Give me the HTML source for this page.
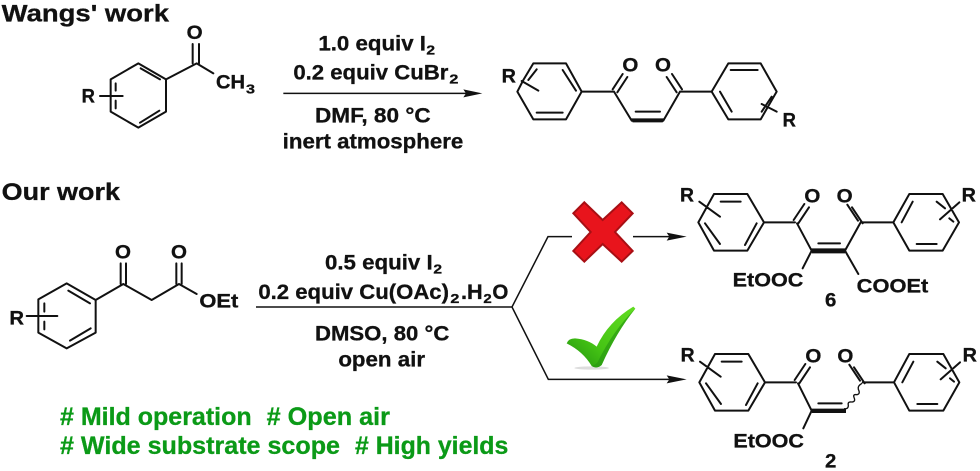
<!DOCTYPE html>
<html><head><meta charset="utf-8"><style>
html,body{margin:0;padding:0;background:#fff;width:980px;height:471px;overflow:hidden}
svg{display:block;filter:blur(.3px)}
text{font-family:"Liberation Sans",sans-serif;font-weight:bold;fill:#111;stroke:#111;stroke-width:.9px}
.s{stroke:#111;stroke-width:6;fill:none;stroke-linecap:round;stroke-linejoin:round}
.t{stroke:#111;stroke-width:4.5;fill:none}
.a{font-size:58px}.b{font-size:64px}.c{font-size:38px}.h{font-size:72px}.g{font-size:76px;fill:#0b9a17;stroke:#0b9a17}
</style></head><body>
<svg width="980" height="471" viewBox="0 0 980 471" xmlns="http://www.w3.org/2000/svg">
<defs><linearGradient id="gr" x1="1" y1="0" x2="0" y2="1"><stop offset="0" stop-color="#62dd22"/><stop offset=".6" stop-color="#45c414"/><stop offset="1" stop-color="#1f8f10"/></linearGradient></defs>
<g transform="scale(.33333)">
<text class="h" x="5" y="64" textLength="502" lengthAdjust="spacingAndGlyphs">Wangs' work</text>
<path class="s" d="M415 190L498 238V335L415 383L332 335V238ZM422 205L480 238M420 368L478 332M347 250V272M347 302V325M300 288H368M498 238L590 190L640 220M578 190V132M597 190V132"/>
<text class="a" x="245" y="308" textLength="40" lengthAdjust="spacingAndGlyphs">R</text>
<text class="a" x="560" y="117" textLength="48" lengthAdjust="spacingAndGlyphs">O</text>
<text class="a" x="648" y="265" textLength="87" lengthAdjust="spacingAndGlyphs">CH</text>
<text class="c" x="738" y="280" textLength="27" lengthAdjust="spacingAndGlyphs">3</text>
<text class="b" x="955" y="152" textLength="323" lengthAdjust="spacingAndGlyphs">1.0 equiv I</text>
<text class="c" x="1279" y="163" textLength="26" lengthAdjust="spacingAndGlyphs">2</text>
<text class="b" x="880" y="238" textLength="465" lengthAdjust="spacingAndGlyphs">0.2 equiv CuBr</text>
<text class="c" x="1348" y="250" textLength="27" lengthAdjust="spacingAndGlyphs">2</text>
<path class="t" d="M850 280H1400"/><path d="M1390 268L1447 280L1390 292L1398 280Z" fill="#111"/>
<text class="b" x="945" y="368" textLength="347" lengthAdjust="spacingAndGlyphs">DMF, 80 °C</text>
<text class="b" x="848" y="445" textLength="542" lengthAdjust="spacingAndGlyphs">inert atmosphere</text>
</g>
<g transform="translate(490,0) scale(.33333)">
<path class="s" d="M130 190H228L275 275L228 358H130L82 275L100 240L130 190ZM218 210L258 272M140 338H218M115 240L140 208M95 243L145 272M275 275H372M372 275L425 362M520 362L570 275M437 335H510M368 268L398 222M382 277L412 231M570 275H665M576 268L546 222M560 277L530 231M665 275L715 190H812L860 275L812 358H715ZM722 210H803M690 275L725 335M845 290L815 335M815 312L860 335"/>
<path d="M420 355H525L518 367H428Z" fill="#111"/>
<text class="a" x="35" y="248" textLength="43" lengthAdjust="spacingAndGlyphs">R</text>
<text class="a" x="397" y="215" textLength="48" lengthAdjust="spacingAndGlyphs">O</text>
<text class="a" x="495" y="215" textLength="48" lengthAdjust="spacingAndGlyphs">O</text>
<text class="a" x="878" y="380" textLength="40" lengthAdjust="spacingAndGlyphs">R</text>
</g>
<g transform="translate(0,170) scale(.33333)">
<text class="h" x="5" y="90" textLength="355" lengthAdjust="spacingAndGlyphs">Our work</text>
<path class="s" d="M200 340L287 390V488L200 535L115 488V388ZM205 362L270 400M210 512L272 475M133 400V425M133 455V478M80 438H172M287 390L370 342L455 390L537 342L590 372M362 342V280M378 342V280M529 342V280M545 342V280"/>
<text class="a" x="28" y="463" textLength="44" lengthAdjust="spacingAndGlyphs">R</text>
<text class="a" x="345" y="266" textLength="48" lengthAdjust="spacingAndGlyphs">O</text>
<text class="a" x="513" y="266" textLength="48" lengthAdjust="spacingAndGlyphs">O</text>
<text class="a" x="598" y="412" textLength="117" lengthAdjust="spacingAndGlyphs">OEt</text>
<text class="b" x="975" y="298" textLength="323" lengthAdjust="spacingAndGlyphs">0.5 equiv I</text>
<text class="c" x="1300" y="311" textLength="26" lengthAdjust="spacingAndGlyphs">2</text>
<text class="b" x="775" y="387" textLength="572" lengthAdjust="spacingAndGlyphs">0.2 equiv Cu(OAc)</text>
<text class="c" x="1351" y="399" textLength="27" lengthAdjust="spacingAndGlyphs">2</text>
<text class="b" x="1383" y="387" textLength="65" lengthAdjust="spacingAndGlyphs">.H</text>
<text class="c" x="1450" y="399" textLength="25" lengthAdjust="spacingAndGlyphs">2</text>
<text class="b" x="1477" y="387" textLength="48" lengthAdjust="spacingAndGlyphs">O</text>
<text class="b" x="945" y="512" textLength="403" lengthAdjust="spacingAndGlyphs">DMSO, 80 °C</text>
<text class="b" x="1015" y="590" textLength="260" lengthAdjust="spacingAndGlyphs">open air</text>
<text class="g" x="180" y="765" textLength="575" lengthAdjust="spacingAndGlyphs"># Mild operation</text>
<text class="g" x="800" y="765" textLength="370" lengthAdjust="spacingAndGlyphs"># Open air</text>
<text class="g" x="180" y="852" textLength="840" lengthAdjust="spacingAndGlyphs"># Wide substrate scope</text>
<text class="g" x="1065" y="852" textLength="460" lengthAdjust="spacingAndGlyphs"># High yields</text>
</g>
<g transform="scale(.33333)">
<path class="t" d="M768 921H1536L1644 710H1716M1536 921L1645 1138H2040M1899 710H2040"/>
<path d="M2000 698L2060 710L2000 722L2008 710Z" fill="#111"/>
<path d="M2000 1126L2060 1138L2000 1150L2008 1138Z" fill="#111"/>
</g>
<g transform="translate(490,170) scale(.33333)">
<path d="M283 97L338 150L395 97L428 130L375 186L428 243L395 275L338 222L283 275L250 243L302 186L250 130Z" fill="#e8141c" stroke="#a80f14" stroke-width="6" stroke-linejoin="miter"/>
<path class="s" d="M672 72H772L822 157L772 242H672L625 157ZM692 95H752M800 160L765 225M690 222L645 160M628 95L690 140M822 157H915M921 160L965 242M911 150L943 102M925 160L957 112M985 220H1050M1065 242L1112 157M1118 160L1086 112M1104 152L1072 104M1112 157H1210M1210 157L1258 72H1358L1407 157L1358 242H1258ZM1235 157L1268 95M1280 222H1340M1340 95L1365 115M1378 145L1390 155M1408 97L1350 148M965 242L938 295M1065 242L1105 312"/>
<path d="M960 235H1070L1065 250H966Z" fill="#111"/>
<text class="a" x="570" y="95" textLength="42" lengthAdjust="spacingAndGlyphs">R</text>
<text class="a" x="943" y="98" textLength="48" lengthAdjust="spacingAndGlyphs">O</text>
<text class="a" x="1040" y="98" textLength="48" lengthAdjust="spacingAndGlyphs">O</text>
<text class="a" x="1415" y="95" textLength="43" lengthAdjust="spacingAndGlyphs">R</text>
<text class="a" x="728" y="350" textLength="212" lengthAdjust="spacingAndGlyphs">EtOOC</text>
<text class="a" x="1100" y="367" textLength="215" lengthAdjust="spacingAndGlyphs">COOEt</text>
<text class="a" x="1005" y="410" textLength="34" lengthAdjust="spacingAndGlyphs">6</text>
</g>
<g transform="translate(490,320) scale(.33333)">
<path class="s" d="M675 102H775L825 187L775 272H675L628 187ZM695 125H755M803 190L768 255M693 252L648 190M630 125L692 170M825 187H918M924 190L965 272M914 180L946 132M928 190L960 142M985 250H1055M1118 187H1212M1124 190L1092 142M1110 182L1078 134M1212 187L1258 102H1360L1408 187L1360 272H1258ZM1237 187L1270 125M1282 252H1342M1342 125L1367 145M1380 175L1392 185M1410 127L1352 178M965 272L940 325"/>
<path d="M960 266H1068V279H966Z" fill="#111"/>
<path d="M1062 266Q1075 268 1075 256Q1072 244 1085 246Q1098 246 1092 232Q1088 222 1101 224Q1112 222 1105 208Q1102 198 1116 190" fill="none" stroke="#111" stroke-width="4"/>
<text class="a" x="572" y="125" textLength="42" lengthAdjust="spacingAndGlyphs">R</text>
<text class="a" x="946" y="128" textLength="48" lengthAdjust="spacingAndGlyphs">O</text>
<text class="a" x="1042" y="128" textLength="48" lengthAdjust="spacingAndGlyphs">O</text>
<text class="a" x="1418" y="125" textLength="43" lengthAdjust="spacingAndGlyphs">R</text>
<text class="a" x="730" y="382" textLength="212" lengthAdjust="spacingAndGlyphs">EtOOC</text>
<text class="a" x="1005" y="442" textLength="34" lengthAdjust="spacingAndGlyphs">2</text>
</g>
<g transform="translate(400,250) scale(.33333)">
<ellipse cx="575" cy="354" rx="52" ry="5" fill="#ddd"/>
<path d="M500 280Q505 265 525 265Q565 268 590 290Q625 215 700 170L706 176Q650 245 605 345Q590 358 575 348Q550 305 500 280Z" fill="url(#gr)"/>
<path d="M706 176Q650 245 605 345Q590 358 575 348Q585 345 592 338Q640 240 706 176Z" fill="#2a9a12" opacity=".7"/>
</g>
</svg>
</body></html>
